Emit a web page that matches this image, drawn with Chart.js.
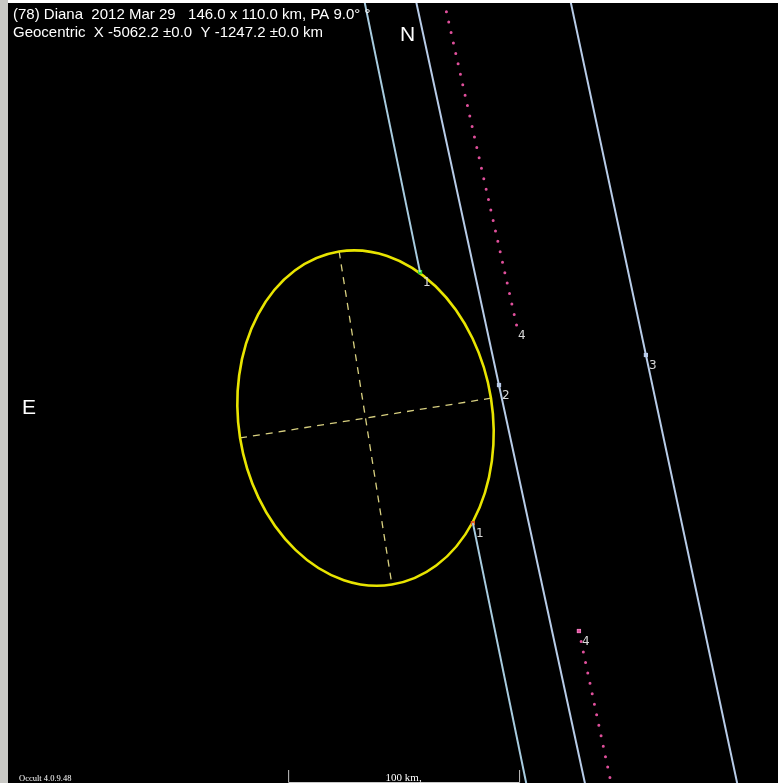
<!DOCTYPE html>
<html lang="en">
<head>
    <meta charset="UTF-8">
    <title>(78) Diana 2012 Mar 29</title>
    <style>
        html, body { margin: 0; padding: 0; background: #ffffff; }
        #leftBar { position: absolute; left: 0; top: 0; width: 8px; height: 783px; background: #c8c8c4; }
        #plot { position: absolute; left: 8px; top: 3px; width: 770px; height: 780px; background: #000000; }
    </style>
</head>
<body>
    <div id="leftBar"></div>
    <div id="plot">
        <canvas id="myChart" width="770" height="780"></canvas>
    </div>

    <script src="https://cdn.jsdelivr.net/npm/chart.js"></script>
    <script>
        // asteroid model (km, centre at 0,0, x to the west, y to the north)
        const majorKm = 146.0;
        const minorKm = 110.0;
        const paDeg = 9.0;

        // chord lines, km  (gaps = occulted part)
        const chord1Upper = [{x: -1.4, y: 185}, {x: 23.6, y: 63.2}];
        const chord1Lower = [{x: 46.5, y: -45.5}, {x: 71.0, y: -165}];
        const chord2 = [{x: 20.9, y: 185}, {x: 96.5, y: -165}];
        const chord3 = [{x: 87.8, y: 185}, {x: 162.4, y: -165}];
        const chord4Upper = [{x: 33.0, y: 185}, {x: 65.6, y: 39.4}];
        const chord4Lower = [{x: 92.4, y: -92.2}, {x: 107.8, y: -165}];

        // event markers and their labels
        const markerPts = [
            {x: 23.6, y: 63.2}, {x: 46.5, y: -45.5}, {x: 57.8, y: 14.3},
            {x: 121.4, y: 27.3}, {x: 92.4, y: -92.2}
        ];
        const markerColors = ['#30d030', '#e06020', '#b8c8e8', '#b8c8e8', '#f080c0'];
        const markerLabels = ['1', '1', '2', '3', '4'];
        const extraLabels = [{x: 65.6, y: 39.4, t: '4'}];

        const titleLine1 = '(78) Diana  2012 Mar 29   146.0 x 110.0 km, PA 9.0\u00b0 \u00b0';
        const titleLine2 = 'Geocentric  X -5062.2 \u00b10.0  Y -1247.2 \u00b10.0 km';
        const scaleBarKm = [-33.5, 66.5];

        const chordColor = '#a8cce0';
        const ctx = document.getElementById('myChart');

        // everything that is not a dataset: ellipse, axes, texts
        const overlay = {
            id: 'overlay',
            beforeDatasetsDraw(chart) {
                const c = chart.ctx;
                const sx = chart.scales.x, sy = chart.scales.y;
                const kx = sx.getPixelForValue(1) - sx.getPixelForValue(0);
                const cx = sx.getPixelForValue(0), cy = sy.getPixelForValue(0);
                const pa = paDeg * Math.PI / 180;
                c.save();
                // dashed axes
                c.strokeStyle = '#d8d080';
                c.lineWidth = 1.3;
                c.setLineDash([7, 6]);
                const a = majorKm / 2 * kx, b = minorKm / 2 * kx;
                c.beginPath();
                c.moveTo(cx - a * Math.sin(pa), cy - a * Math.cos(pa));
                c.lineTo(cx + a * Math.sin(pa), cy + a * Math.cos(pa));
                c.moveTo(cx - b * Math.cos(pa), cy + b * Math.sin(pa));
                c.lineTo(cx + b * Math.cos(pa), cy - b * Math.sin(pa));
                c.stroke();
                c.setLineDash([]);
                // ellipse outline
                c.strokeStyle = '#e8e400';
                c.lineWidth = 2.6;
                c.beginPath();
                c.ellipse(cx, cy, b, a, -pa, 0, Math.PI * 2);
                c.stroke();
                c.restore();
            },
            afterDatasetsDraw(chart) {
                const c = chart.ctx;
                const sx = chart.scales.x, sy = chart.scales.y;
                c.save();
                c.fillStyle = '#ffffff';
                c.textBaseline = 'alphabetic';
                c.font = '15px "Liberation Sans", Arial, sans-serif';
                c.fillText(titleLine1, 5, 16);
                c.fillText(titleLine2, 5, 34);
                c.font = '21px "Liberation Sans", Arial, sans-serif';
                c.fillText('N', 392, 38);
                c.fillText('E', 14, 411);
                // event labels
                c.fillStyle = '#d8d8d8';
                c.font = '12px "DejaVu Sans", sans-serif';
                markerPts.forEach((p, i) => {
                    c.fillText(markerLabels[i], sx.getPixelForValue(p.x) + 3, sy.getPixelForValue(p.y) + 14);
                });
                extraLabels.forEach(p => {
                    c.fillText(p.t, sx.getPixelForValue(p.x) + 1, sy.getPixelForValue(p.y) + 12);
                });
                // scale bar
                const x0 = sx.getPixelForValue(scaleBarKm[0]);
                const x1 = sx.getPixelForValue(scaleBarKm[1]);
                c.strokeStyle = '#c8c8c8';
                c.lineWidth = 1;
                c.beginPath();
                c.moveTo(x0 + 0.5, 767); c.lineTo(x0 + 0.5, 779.5);
                c.lineTo(x1 + 0.5, 779.5); c.lineTo(x1 + 0.5, 767);
                c.stroke();
                c.fillStyle = '#ffffff';
                c.font = '11px "Liberation Serif", serif';
                c.textAlign = 'center';
                c.fillText('100 km,', (x0 + x1) / 2, 778);
                c.textAlign = 'left';
                c.font = '8.5px "Liberation Serif", serif';
                c.fillText('Occult 4.0.9.48', 11, 778);
                c.restore();
            }
        };

        const lineSet = (pts, color, dotted) => ({
            data: pts,
            showLine: true,
            borderColor: color,
            borderWidth: dotted ? 3 : 2,
            borderDash: dotted ? [0, 10.7] : [],
            borderCapStyle: dotted ? 'round' : 'butt',
            pointRadius: 0
        });

        let myChart = new Chart(ctx, {
            type: 'scatter',
            data: {
                datasets: [
                    lineSet(chord1Upper, chordColor, false),
                    lineSet(chord1Lower, chordColor, false),
                    lineSet(chord2, '#b8cce8', false),
                    lineSet(chord3, '#b8cce8', false),
                    lineSet(chord4Upper, '#e0509c', true),
                    lineSet(chord4Lower, '#e0509c', true),
                    {
                        data: markerPts,
                        pointStyle: 'rect',
                        pointRadius: 3,
                        pointBackgroundColor: markerColors,
                        pointBorderWidth: 0,
                        showLine: false
                    }
                ]
            },
            options: {
                responsive: false,
                animation: false,
                layout: { padding: 0, autoPadding: false },
                scales: {
                    x: { type: 'linear', min: -154.8, max: 178.6, display: false },
                    y: { type: 'linear', min: -158.0, max: 179.7, display: false }
                },
                plugins: {
                    legend: { display: false },
                    tooltip: { enabled: false }
                }
            },
            plugins: [overlay]
        });
    </script>
</body>
</html>
